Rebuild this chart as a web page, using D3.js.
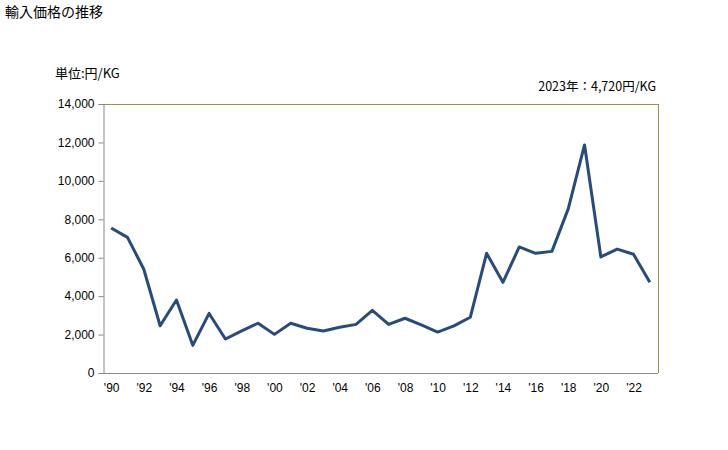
<!DOCTYPE html>
<html><head><meta charset="utf-8">
<script src="https://cdn.jsdelivr.net/npm/d3@7"></script>
<style>body{margin:0;background:#fff;} text{font-family:"Noto Sans CJK JP","DejaVu Sans",sans-serif;}</style>
</head><body>
<svg id="c" width="728" height="450"></svg>
<script>
const years = d3.range(1990, 2024);
const values = [7550,7060,5400,2460,3800,1440,3100,1770,2190,2590,2010,2590,2330,2190,2380,2530,3260,2530,2850,2500,2130,2450,2900,6230,4720,6560,6230,6330,8540,11870,6040,6450,6180,4720];
const yTicks = [0,2000,4000,6000,8000,10000,12000,14000];
const xTickYears = d3.range(1990, 2024, 2);
const title = "輸入価格の推移";
const unitLabel = "単位:円/KG";
const note = "2023年：4,720円/KG";

const svg = d3.select("#c");
const L=103, R=658, T=104, B=373;
const x = d3.scalePoint().domain(years).range([L,R]).padding(0.5);
const y = d3.scaleLinear().domain([0,14000]).range([B,T]);

svg.append("text").attr("x",5).attr("y",17).attr("font-size",14).attr("fill","#000").text(title);
svg.append("text").attr("x",55).attr("y",78).attr("font-size",13).attr("fill","#000").text(unitLabel);
svg.append("text").attr("x",656).attr("y",91).attr("font-size",12.5).attr("text-anchor","end").attr("fill","#000").text(note);

svg.append("line").attr("x1",L).attr("x2",R).attr("y1",T+0.5).attr("y2",T+0.5).attr("stroke","#9c8f4c");
svg.append("line").attr("x1",R+0.5).attr("x2",R+0.5).attr("y1",T).attr("y2",B).attr("stroke","#9c8f4c");

const ya = d3.axisLeft(y).tickValues(yTicks).tickSize(5).tickPadding(4).tickFormat(d3.format(","));
const gy = svg.append("g").attr("transform",`translate(${L+0.5},0)`).call(ya);
gy.select(".domain").attr("stroke","#888");
gy.selectAll(".tick line").attr("stroke","#888");
gy.selectAll("text").attr("font-size",12).attr("fill","#000").style("font-family","'Liberation Sans',Arial,sans-serif");

const xa = d3.axisBottom(x).tickValues(xTickYears).tickSize(0).tickPadding(10).tickFormat(d=>"'"+String(d).slice(2));
const gx = svg.append("g").attr("transform",`translate(0,${B+0.5})`).call(xa);
gx.select(".domain").attr("stroke","#888").attr("d",`M${L},0H${R}`);
gx.selectAll("text").attr("font-size",12).attr("fill","#000").style("font-family","'Liberation Sans',Arial,sans-serif");

svg.append("path").datum(values)
  .attr("fill","none").attr("stroke","#264b7c").attr("stroke-width",3).attr("stroke-linejoin","round")
  .attr("d", d3.line().x((d,i)=>x(years[i])).y(d=>y(d)));
</script>
</body></html>
